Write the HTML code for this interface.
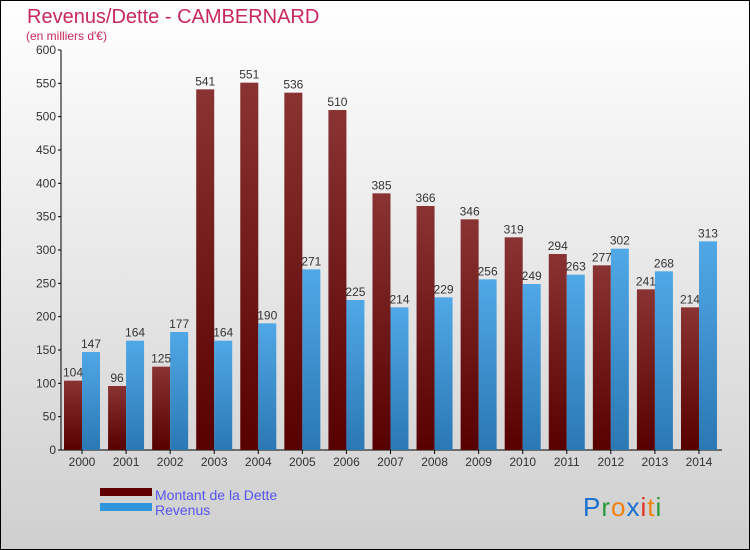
<!DOCTYPE html>
<html><head><meta charset="utf-8"><style>
body{margin:0;}
svg{display:block;font-family:"Liberation Sans",sans-serif;}
</style></head><body>
<svg id="chart" width="750" height="550" xmlns="http://www.w3.org/2000/svg">
<defs>
<linearGradient id="bg" x1="0" y1="0" x2="0" y2="1"><stop offset="0" stop-color="#ffffff"/><stop offset="1" stop-color="#cfcfcf"/></linearGradient>
<linearGradient id="gd" x1="0" y1="0" x2="0" y2="1"><stop offset="0" stop-color="#8a3333"/><stop offset="1" stop-color="#560000"/></linearGradient>
<linearGradient id="gr" x1="0" y1="0" x2="0" y2="1"><stop offset="0" stop-color="#50a8e6"/><stop offset="1" stop-color="#2a78b4"/></linearGradient>
</defs>
<rect x="0.5" y="0.5" width="749" height="549" fill="url(#bg)" stroke="#000"/>
<text x="27" y="23" font-size="20" fill="#c8285a">Revenus/Dette - CAMBERNARD</text>
<text x="26" y="40" font-size="12" fill="#c8285a">(en milliers d'€)</text>
<g id="axes"></g>
<g id="bars"></g>
<rect x="100" y="488" width="52" height="8" fill="#600000"/>
<rect x="100" y="503" width="52" height="8" fill="#3096dc"/>
<text x="155" y="500" font-size="14" fill="#5555ee">Montant de la Dette</text>
<text x="155" y="515" font-size="14" fill="#5555ee">Revenus</text>
<text x="583" y="516" font-size="26" letter-spacing="1"><tspan fill="#1a6fcf">P</tspan><tspan fill="#2a9a3a">r</tspan><tspan fill="#f08010">o</tspan><tspan fill="#1a6fcf">x</tspan><tspan fill="#e03020">i</tspan><tspan fill="#f08010">t</tspan><tspan fill="#2a9a3a">i</tspan></text>
</svg>
<script>
const years=["2000","2001","2002","2003","2004","2005","2006","2007","2008","2009","2010","2011","2012","2013","2014"];
const dette=[104,96,125,541,551,536,510,385,366,346,319,294,277,241,214];
const revenus=[147,164,177,164,190,271,225,214,229,256,249,263,302,268,313];
const yTicks=[0,50,100,150,200,250,300,350,400,450,500,550,600];
const NS="http://www.w3.org/2000/svg";
const y=v=>450-v*400/600;
const xc=i=>82+i*44.07;
const ax=document.getElementById('axes'),bg=document.getElementById('bars');
function mk(tag,attrs,parent,txt){const e=document.createElementNS(NS,tag);for(const k in attrs)e.setAttribute(k,attrs[k]);if(txt!=null)e.textContent=txt;parent.appendChild(e);return e;}
let l=mk('line',{x1:61,y1:50,x2:61,y2:450,stroke:'#000'},ax);


l=mk('line',{x1:61,y1:450,x2:722,y2:450,stroke:'#000'},ax);


yTicks.forEach(t=>{
  mk('line',{x1:58,y1:y(t),x2:61,y2:y(t),stroke:'#000'},ax);
  const tx=mk('text',{x:56,y:y(t)+4,'font-size':12,fill:'#333','text-anchor':'end'},ax,t);
  
  
});
years.forEach((yr,i)=>{
  const c=xc(i);
  mk('line',{x1:c,y1:450,x2:c,y2:454,stroke:'#000'},ax);
  const tx=mk('text',{x:c,y:466,'font-size':12,fill:'#333','text-anchor':'middle'},ax,yr);
  
  
  const b1=mk('rect',{x:c-18,y:y(dette[i]),width:18,height:450-y(dette[i]),fill:'url(#gd)'},bg);
  
  
  const b2=mk('rect',{x:c,y:y(revenus[i]),width:18,height:450-y(revenus[i]),fill:'url(#gr)'},bg);
  
  
  const v1=mk('text',{x:c-9,y:y(dette[i])-4,'font-size':12,fill:'#333','text-anchor':'middle'},bg,dette[i]);
  
  
  const v2=mk('text',{x:c+9,y:y(revenus[i])-4,'font-size':12,fill:'#333','text-anchor':'middle'},bg,revenus[i]);
  
  
});
</script>
</body></html>
